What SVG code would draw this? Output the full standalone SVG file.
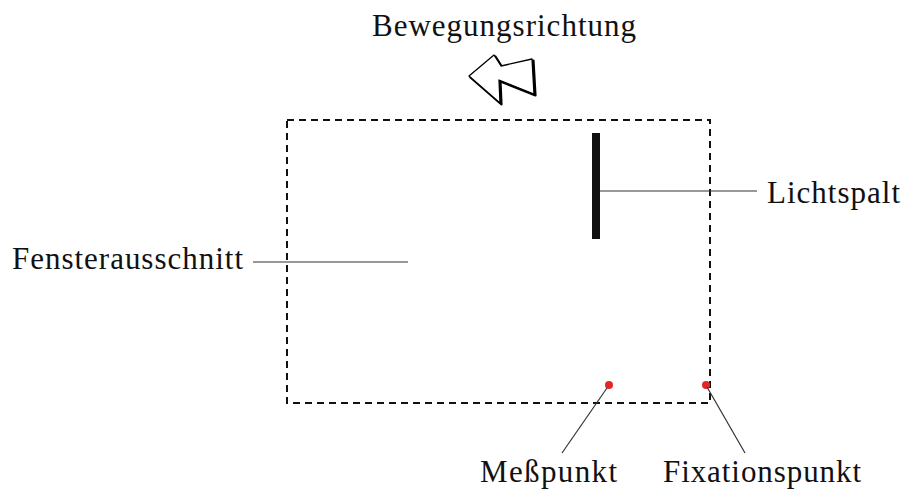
<svg xmlns="http://www.w3.org/2000/svg" width="903" height="491" viewBox="0 0 903 491">
  <style>
    text { font-family: "Liberation Serif", "Times New Roman", serif; font-size: 31px; fill: #111; }
    .lead { stroke: #333; stroke-width: 1.2; fill: none; }
    .dot { fill: #e02828; }
  </style>
  <defs>
    <filter id="soft" x="-50%" y="-50%" width="200%" height="200%">
      <feGaussianBlur stdDeviation="0.6"/>
    </filter>
  </defs>
  <rect width="903" height="491" fill="#fff"/>

  <!-- direction arrow with a shadowed outline -->
  <g id="arrow">
    <polygon points="469,76 494,55 501,66 532,59 534,94 499,80 500,103" transform="translate(1.5,1.5)" fill="#000" stroke="#000" stroke-width="2.2" stroke-linejoin="round"/>
    <polygon points="469,76 494,55 501,66 532,59 534,94 499,80 500,103" fill="#fff" stroke="#000" stroke-width="1.3" stroke-linejoin="round"/>
  </g>
  <g id="title">
    <text x="372" y="36" textLength="264" lengthAdjust="spacing">Bewegungsrichtung</text>
  </g>

  <!-- window frame -->
  <g id="fenster">
    <rect x="287" y="120" width="423" height="283" fill="none" stroke="#111" stroke-width="2" stroke-dasharray="7 5"/>
    <text x="12" y="269" textLength="231" lengthAdjust="spacing">Fensterausschnitt</text>
  </g>

  <!-- light slit -->
  <g id="lichtspalt">
    <rect x="592" y="133" width="8" height="106" fill="#111"/>
    <text x="767" y="203" textLength="133" lengthAdjust="spacing">Lichtspalt</text>
  </g>

  <!-- measuring and fixation points -->
  <g id="messpunkt">
    <circle class="dot" cx="609" cy="385" r="4" filter="url(#soft)"/>
    <text x="480" y="482" textLength="137" lengthAdjust="spacing">Meßpunkt</text>
  </g>
  <g id="fixationspunkt">
    <circle class="dot" cx="706" cy="385" r="4" filter="url(#soft)"/>
    <text x="663" y="482" textLength="198" lengthAdjust="spacing">Fixationspunkt</text>
  </g>

  <!-- leader lines -->
  <g id="connectors">
    <line class="lead" x1="253" y1="262" x2="408" y2="262"/>
    <line class="lead" x1="600" y1="191" x2="757" y2="191"/>
    <line class="lead" x1="607" y1="388" x2="562" y2="453"/>
    <line class="lead" x1="707" y1="387" x2="745" y2="453"/>
  </g>
</svg>
